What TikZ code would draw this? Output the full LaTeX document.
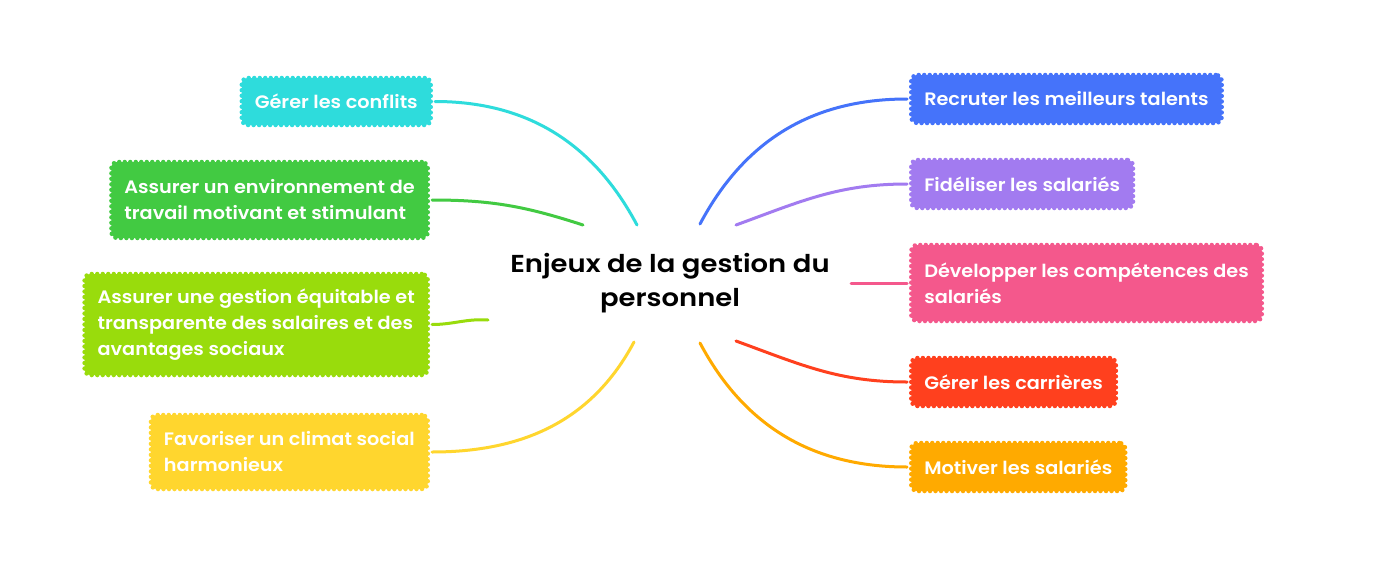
\documentclass[tikz,border=0pt]{standalone}
\usepackage{fontspec}
\setmainfont{Poppins}[BoldFont={Poppins SemiBold}]
\newfontfamily\topicfont{Poppins SemiBold}[FakeStretch=1.07]
\newfontfamily\centerfont{Poppins SemiBold}[FakeStretch=1.12]
\definecolor{ccyan}{HTML}{2EDCDC}
\definecolor{cgreen}{HTML}{42CA42}
\definecolor{clime}{HTML}{99DC0C}
\definecolor{cyellow}{HTML}{FFD62E}
\definecolor{cblue}{HTML}{4573FA}
\definecolor{cpurple}{HTML}{A27BF0}
\definecolor{cpink}{HTML}{F4588C}
\definecolor{cred}{HTML}{FF401E}
\definecolor{corange}{HTML}{FFAA00}
\tikzset{
  topic/.style={fill=#1, draw=#1, rounded corners=6pt, line width=4.5pt,
    dash pattern=on 0pt off 5.5pt, line cap=round,
    text=white, font=\topicfont\fontsize{18}{26}\selectfont, align=left,
    inner xsep=13pt, inner ysep=0pt},
  link/.style={draw=#1, line width=3pt, line cap=round}
}
\begin{document}
\begin{tikzpicture}[x=1pt,y=-1pt]
\useasboundingbox[fill=white] (0,0) rectangle (1386,570);
\node[font=\centerfont\fontsize{24.5}{34}\selectfont, align=center] (ctr) at (670,283) {Enjeux de la gestion du\\personnel};
% left
\node[topic=ccyan, minimum height=47pt, anchor=east] (c1) at (433,101.5) {Gérer les conflits};
\node[topic=cgreen, minimum height=76pt, anchor=east] (c2) at (430,200) {Assurer un environnement de\\travail motivant et stimulant};
\node[topic=clime, minimum height=101pt, anchor=east] (c3) at (430,324.5) {Assurer une gestion équitable et\\transparente des salaires et des\\avantages sociaux};
\node[topic=cyellow, minimum height=74pt, anchor=east] (c4) at (430,452) {Favoriser un climat social\\harmonieux};
% right
\node[topic=cblue, minimum height=48pt, anchor=west] (c5) at (909,99) {Recruter les meilleurs talents};
\node[topic=cpurple, minimum height=48pt, anchor=west] (c6) at (909,184) {Fidéliser les salariés};
\node[topic=cpink, minimum height=76pt, anchor=west] (c7) at (909,283) {Développer les compétences des\\salariés};
\node[topic=cred, minimum height=48pt, anchor=west] (c8) at (909,382) {Gérer les carrières};
\node[topic=corange, minimum height=48pt, anchor=west] (c9) at (909,467) {Motiver les salariés};
% start points
\coordinate (s1) at (637,225);
\coordinate (s2) at (583,225);
\coordinate (s3) at (488,320);
\coordinate (s4) at (634,342);
\coordinate (s5) at (700,224);
\coordinate (s6) at (736,225);
\coordinate (s7) at (851,283);
\coordinate (s8) at (736,341);
\coordinate (s9) at (700,343);
\draw[link=ccyan] (s1) to[out=118, in=0] ([xshift=2pt]c1.east);
\draw[link=cgreen] (s2) to[out=162, in=0] ([xshift=2pt]c2.east);
\draw[link=clime] (s3) to[out=176, in=0] ([xshift=2pt]c3.east);
\draw[link=cyellow] (s4) to[out=-118, in=0] ([xshift=2pt]c4.east);
\draw[link=cblue] (s5) to[out=62, in=180] ([xshift=-2pt]c5.west);
\draw[link=cpurple] (s6) to[out=20, in=180] ([xshift=-2pt]c6.west);
\draw[link=cpink] (s7) -- ([xshift=-2pt]c7.west);
\draw[link=cred] (s8) to[out=-20, in=180] ([xshift=-2pt]c8.west);
\draw[link=corange] (s9) to[out=-62, in=180] ([xshift=-2pt]c9.west);
\end{tikzpicture}
\end{document}
